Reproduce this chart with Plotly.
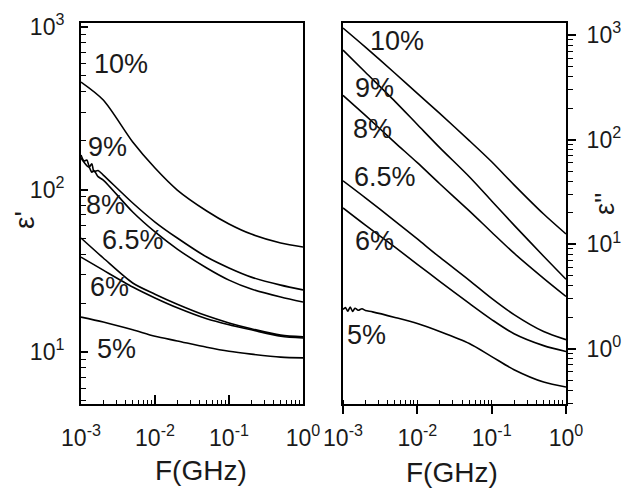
import plotly.graph_objects as go

# Frequencies (GHz)
freq = [0.001, 0.002, 0.005, 0.01, 0.02, 0.05, 0.1, 0.2, 0.5, 1.0]
# denser low-frequency sampling for the noisy starts
freq_noisy = [0.001, 0.0011, 0.0012, 0.0013, 0.0014, 0.0015, 0.0017,
              0.002, 0.005, 0.01, 0.02, 0.05, 0.1, 0.2, 0.5, 1.0]
freq_noisy5 = [0.001, 0.00108, 0.00116, 0.00125, 0.00135, 0.00145, 0.0016, 0.0018,
               0.002, 0.0025, 0.005, 0.01, 0.02, 0.05, 0.1, 0.2, 0.5, 1.0]
series_names = ["10%", "9%", "8%", "6.5%", "6%", "5%"]

# Real permittivity eps'
eps_r_10 = [458.6, 355.5, 196.0, 135.6, 99.3, 73.8, 61.4, 53.2, 46.9, 44.3]
eps_r_9 = [163.1, 150.0, 152.0, 138.0, 144.0, 129.0, 131.0,
           122.8, 82.6, 63.1, 50.3, 38.4, 32.9, 28.9, 25.8, 24.1]
eps_r_8 = [156.2, 147.0, 140.0, 136.0, 128.0, 131.0, 120.0,
           114.4, 72.7, 54.8, 43.0, 32.9, 27.7, 24.4, 21.8, 20.3]
eps_r_65 = [50.3, 37.9, 26.6, 22.7, 19.7, 16.7, 15.1, 13.9, 12.7, 12.4]
eps_r_6 = [38.4, 31.9, 25.1, 21.5, 18.7, 16.0, 14.7, 13.7, 12.5, 12.2]
eps_r_5 = [16.4, 15.3, 13.7, 12.5, 11.7, 10.7, 10.1, 9.7, 9.3, 9.2]

# Imaginary permittivity eps''
eps_i_10 = [1167.5, 766.6, 431.0, 276.9, 177.8, 97.8, 61.4, 36.9, 19.4, 12.5]
eps_i_9 = [717.5, 440.8, 232.0, 139.4, 83.8, 44.1, 25.9, 15.2, 7.67, 4.61]
eps_i_8 = [264.9, 170.1, 93.6, 60.1, 37.8, 20.8, 13.0, 8.19, 4.71, 3.16]
eps_i_65 = [40.3, 27.7, 16.6, 11.2, 7.50, 4.51, 3.03, 2.12, 1.46, 1.22]
eps_i_6 = [22.2, 15.2, 9.36, 6.42, 4.41, 2.71, 1.90, 1.39, 1.07, 0.94]
eps_i_5 = [2.37, 2.47, 2.28, 2.50, 2.27, 2.44, 2.33, 2.41, 2.32, 2.25,
           1.99, 1.74, 1.46, 1.12, 0.84, 0.63, 0.48, 0.43]

# Tick labels
x_tickvals = [0.001, 0.01, 0.1, 1]
x_ticktext = ["10<sup>-3</sup>", "10<sup>-2</sup>", "10<sup>-1</sup>", "10<sup>0</sup>"]
yl_tickvals = [10, 100, 1000]
yl_ticktext = ["10<sup>1</sup>", "10<sup>2</sup>", "10<sup>3</sup>"]
yr_tickvals = [1, 10, 100, 1000]
yr_ticktext = ["10<sup>0</sup>", "10<sup>1</sup>", "10<sup>2</sup>", "10<sup>3</sup>"]

# label positions (log10 F, log10 eps)
left_label_x = [-2.851, -2.932, -2.96, -2.743, -2.905, -2.811]
left_label_y = [2.772, 2.262, 1.905, 1.689, 1.40, 1.02]
right_label_x = [-2.664, -2.866, -2.892, -2.879, -2.866, -2.973]
right_label_y = [2.942, 2.490, 2.106, 1.644, 1.029, 0.135]

left_freqs = [freq, freq_noisy, freq_noisy, freq, freq, freq]
left_series = [eps_r_10, eps_r_9, eps_r_8, eps_r_65, eps_r_6, eps_r_5]
right_freqs = [freq, freq, freq, freq, freq, freq_noisy5]
right_series = [eps_i_10, eps_i_9, eps_i_8, eps_i_65, eps_i_6, eps_i_5]

FONT = "Arial, Liberation Sans, sans-serif"
TXT = "#1a1a1a"

fig = go.Figure()
for name, xs, ys in zip(series_names, left_freqs, left_series):
    fig.add_trace(go.Scatter(x=xs, y=ys, mode="lines", name=name,
                             line=dict(color="black", width=1.6, shape="spline", smoothing=0.8),
                             xaxis="x", yaxis="y", showlegend=False))
for name, xs, ys in zip(series_names, right_freqs, right_series):
    fig.add_trace(go.Scatter(x=xs, y=ys, mode="lines", name=name,
                             line=dict(color="black", width=1.6, shape="spline", smoothing=0.8),
                             xaxis="x2", yaxis="y2", showlegend=False))

annotations = []
for name, lx, ly in zip(series_names, left_label_x, left_label_y):
    annotations.append(dict(x=lx, y=ly, xref="x", yref="y", text=name, showarrow=False,
                            xanchor="left", yanchor="middle",
                            font=dict(family=FONT, size=27, color=TXT)))
for name, lx, ly in zip(series_names, right_label_x, right_label_y):
    annotations.append(dict(x=lx, y=ly, xref="x2", yref="y2", text=name, showarrow=False,
                            xanchor="left", yanchor="middle",
                            font=dict(family=FONT, size=27, color=TXT)))

titlefont = dict(family=FONT, size=28, color=TXT)
# axis titles
annotations.append(dict(x=201 / 624, y=1 - 470 / 497, xref="paper", yref="paper",
                        text="F(GHz)", showarrow=False, xanchor="center", yanchor="middle",
                        font=titlefont))
annotations.append(dict(x=452 / 624, y=1 - 472 / 497, xref="paper", yref="paper",
                        text="F(GHz)", showarrow=False, xanchor="center", yanchor="middle",
                        font=titlefont))
annotations.append(dict(x=24 / 624, y=1 - 220 / 497, xref="paper", yref="paper",
                        text="ε'", showarrow=False, xanchor="center", yanchor="middle",
                        textangle=-90, font=titlefont))
annotations.append(dict(x=605 / 624, y=1 - 204 / 497, xref="paper", yref="paper",
                        text="ε''", showarrow=False, xanchor="center", yanchor="middle",
                        textangle=-90, font=dict(family=FONT, size=27, color=TXT)))

tickfont = dict(family=FONT, size=23, color=TXT)

ydom = [1 - 404 / 497, 1 - 23 / 497]

common = dict(type="log", showgrid=False, zeroline=False, automargin=False,
              showline=True, linecolor="black", linewidth=2, mirror=True,
              tickfont=tickfont, tickmode="array")

fig.update_layout(
    width=624, height=497,
    margin=dict(l=0, r=0, t=0, b=0),
    paper_bgcolor="white", plot_bgcolor="white",
    annotations=annotations,
    xaxis=dict(**common, range=[-3, 0], domain=[81 / 624, 303 / 624],
               tickvals=x_tickvals, ticktext=x_ticktext,
               ticks="inside", ticklen=9, tickwidth=1.5, tickcolor="black",
               minor=dict(dtick="D1", ticks="inside", ticklen=4, tickwidth=1.2,
                          tickcolor="black", showgrid=False),
               ticklabelstandoff=12, anchor="y"),
    yaxis=dict(**common, range=[0.68, 3.025], domain=ydom,
               tickvals=yl_tickvals, ticktext=yl_ticktext,
               ticks="inside", ticklen=7, tickwidth=1.5, tickcolor="black",
               minor=dict(dtick="D1", ticks="inside", ticklen=5, tickwidth=1.2,
                          tickcolor="black", showgrid=False),
               ticklabelstandoff=10, anchor="x"),
    xaxis2=dict(**common, range=[-3, 0], domain=[343 / 624, 566 / 624],
                tickvals=x_tickvals, ticktext=x_ticktext,
                ticks="outside", ticklen=8, tickwidth=1.5, tickcolor="black",
                minor=dict(dtick="D1", ticks="inside", ticklen=4, tickwidth=1.2,
                           tickcolor="black", showgrid=False),
                ticklabelstandoff=4, anchor="y2"),
    yaxis2=dict(**common, range=[-0.529, 3.115], domain=ydom, side="right",
                tickvals=yr_tickvals, ticktext=yr_ticktext,
                ticks="outside", ticklen=8, tickwidth=1.5, tickcolor="black",
                minor=dict(dtick="D1", ticks="outside", ticklen=5, tickwidth=1.2,
                           tickcolor="black", showgrid=False),
                ticklabelstandoff=6, anchor="x2"),
)

fig.write_html("out.html")
